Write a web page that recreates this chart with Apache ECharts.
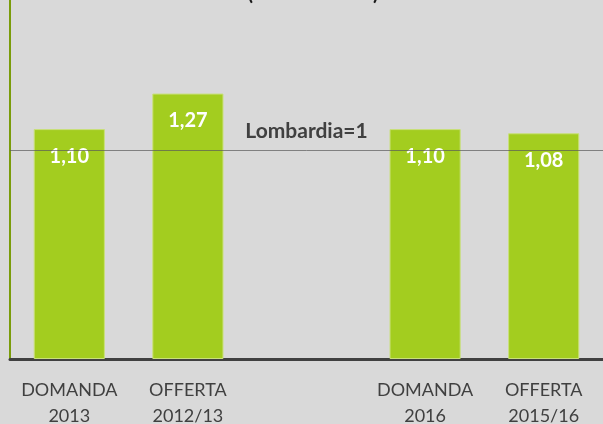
<!DOCTYPE html>
<html>
<head>
<meta charset="utf-8">
<script src="https://cdn.jsdelivr.net/npm/echarts@6/dist/echarts.min.js"></script>
<style>
  html, body { margin: 0; padding: 0; background: #d9d9d9; }
  #chart { width: 603px; height: 424px; }
</style>
</head>
<body>
<div id="chart"></div>
<script>
// categories (middle slot is an empty gap)
const categories = ["DOMANDA\n2013", "OFFERTA\n2012/13", "", "DOMANDA\n2016", "OFFERTA\n2015/16"];
const values = [1.10, 1.27, null, 1.10, 1.08];
const refValue = 1;
const refLabel = "Lombardia=1";
const title = "(numeri indice)";

const fmt = v => v.toFixed(2).replace(".", ",");

const chart = echarts.init(document.getElementById("chart"));

const option = {
  backgroundColor: "#d9d9d9",
  animation: false,
  textStyle: { fontFamily: "Lato" },
  // title is cut off by the top edge in the original
  graphic: [{
    type: "text",
    x: 313,
    y: 4,
    style: {
      text: title,
      fill: "#1a1a1a",
      font: "bold 20px Lato",
      textAlign: "center",
      textVerticalAlign: "bottom"
    }
  }],
  grid: { left: 10, right: 0, top: 0, bottom: 65, outerBoundsMode: "none" },
  xAxis: {
    type: "category",
    data: categories,
    axisTick: { show: false },
    axisLine: { lineStyle: { color: "#404040", width: 3 } },
    axisLabel: {
      color: "#404040",
      fontSize: 18,
      lineHeight: 26,
      margin: 18,
      interval: 0
    }
  },
  yAxis: {
    type: "value",
    min: 0,
    max: 359 / 209,
    axisLine: { show: true, lineStyle: { color: "#7a9c0a", width: 2 } },
    axisTick: { show: false },
    axisLabel: { show: false },
    splitLine: { show: false }
  },
  series: [{
    type: "bar",
    data: values.map(v => (v == null ? "-" : v)),
    barWidth: "60%",
    itemStyle: { color: "#a3cd1f", borderColor: "#c9e07a", borderWidth: 1 },
    label: {
      show: true,
      position: "insideTop",
      distance: 17,
      color: "#ffffff",
      fontWeight: "bold",
      fontSize: 20,
      formatter: p => fmt(p.value)
    },
    markLine: {
      silent: true,
      symbol: "none",
      lineStyle: { color: "rgba(90,90,90,0.7)", width: 1, type: "solid" },
      label: {
        show: true,
        position: "middle",
        formatter: refLabel,
        color: "#404040",
        fontWeight: "bold",
        fontSize: 21,
        distance: 8
      },
      data: [{ yAxis: refValue }],
      z: 10
    }
  }]
};

chart.setOption(option);
</script>
</body>
</html>
